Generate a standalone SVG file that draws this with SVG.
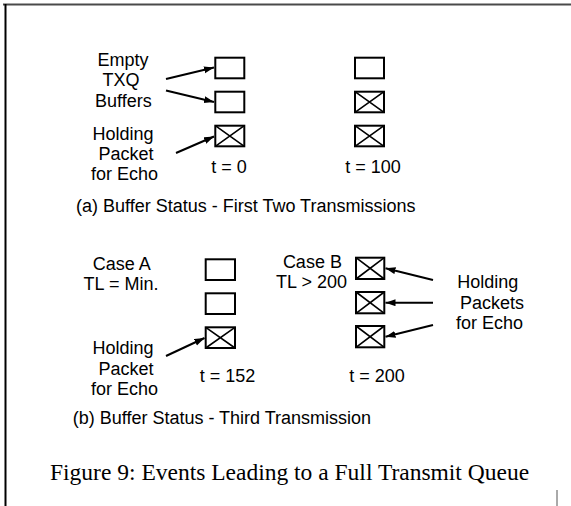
<svg xmlns="http://www.w3.org/2000/svg" width="571" height="506" viewBox="0 0 571 506">
<style>
.bx{fill:none;stroke:#000;stroke-width:2}
.x{stroke:#000;stroke-width:1.6}
.t{font-family:"Liberation Sans",Arial,sans-serif;font-size:18px;fill:#000}
.m{text-anchor:middle}
.cap{font-family:"Liberation Serif","Times New Roman",serif;font-size:23.5px;fill:#000}
.ar{stroke:#000;stroke-width:2;fill:none;marker-end:url(#ah)}
</style>
<defs>
<marker id="ah" markerUnits="userSpaceOnUse" markerWidth="11" markerHeight="8" refX="10" refY="3.5" orient="auto">
<path d="M0,0 L10,3.5 L0,7 z" fill="#000"/>
</marker>
</defs>
<rect width="571" height="506" fill="#fff"/>
<g id="frame">
<line x1="3" y1="4.5" x2="571" y2="4.5" stroke="#4a4a4a" stroke-width="2"/>
<line x1="5.5" y1="4" x2="5.5" y2="506" stroke="#000" stroke-width="2"/>
<line x1="557" y1="490" x2="557" y2="506" stroke="#555" stroke-width="1"/>
</g>
<g id="a0-1"><rect class="bx" x="215.3" y="57.7" width="29" height="20.6"/></g>
<g id="a0-2"><rect class="bx" x="215.3" y="91.7" width="29" height="20.6"/></g>
<g id="a0-3"><rect class="bx" x="215.3" y="125.7" width="29" height="20.6"/><path class="x" d="M215.3,125.7 L244.3,146.3 M244.3,125.7 L215.3,146.3"/></g>
<g id="a100-1"><rect class="bx" x="355" y="57.7" width="29" height="20.6"/></g>
<g id="a100-2"><rect class="bx" x="355" y="91.7" width="29" height="20.6"/><path class="x" d="M355,91.7 L384,112.3 M384,91.7 L355,112.3"/></g>
<g id="a100-3"><rect class="bx" x="355" y="125.7" width="29" height="20.6"/><path class="x" d="M355,125.7 L384,146.3 M384,125.7 L355,146.3"/></g>
<g id="bA-1"><rect class="bx" x="205.7" y="259.3" width="29.3" height="20.7"/></g>
<g id="bA-2"><rect class="bx" x="205.7" y="293.3" width="29.3" height="20.7"/></g>
<g id="bA-3"><rect class="bx" x="205.7" y="327.3" width="29.3" height="20.7"/><path class="x" d="M205.7,327.3 L235,348 M235,327.3 L205.7,348"/></g>
<g id="bB-1"><rect class="bx" x="356" y="257.7" width="28.3" height="21.3"/><path class="x" d="M356,257.7 L384.3,279 M384.3,257.7 L356,279"/></g>
<g id="bB-2"><rect class="bx" x="356" y="292" width="28.3" height="21.3"/><path class="x" d="M356,292 L384.3,313.3 M384.3,292 L356,313.3"/></g>
<g id="bB-3"><rect class="bx" x="356" y="326" width="28.3" height="21.3"/><path class="x" d="M356,326 L384.3,347.3 M384.3,326 L356,347.3"/></g>
<g id="connectors">
<line class="ar" x1="166" y1="79" x2="214" y2="67.5"/>
<line class="ar" x1="166" y1="90.5" x2="214" y2="102"/>
<line class="ar" x1="176" y1="153" x2="214" y2="136.5"/>
<line class="ar" x1="166" y1="356" x2="204.5" y2="338"/>
<line class="ar" x1="433" y1="280" x2="385.5" y2="268.3"/>
<line class="ar" x1="433" y1="302.7" x2="385.5" y2="302.7"/>
<line class="ar" x1="433" y1="325" x2="385.5" y2="336.7"/>
</g>
<g id="label-empty">
<text class="t m" x="123" y="66">Empty</text>
<text class="t m" x="121" y="86">TXQ</text>
<text class="t m" x="123.4" y="107">Buffers</text>
</g>
<g id="label-holding-a">
<text class="t m" x="123" y="140">Holding</text>
<text class="t m" x="126" y="160">Packet</text>
<text class="t m" x="124.5" y="180">for Echo</text>
</g>
<text class="t m" x="229" y="173">t = 0</text>
<text class="t m" x="373" y="173">t = 100</text>
<text class="t" x="76" y="212">(a) Buffer Status - First Two Transmissions</text>
<g id="label-caseA">
<text class="t m" x="121.7" y="270">Case A</text>
<text class="t m" x="121" y="290">TL = Min.</text>
</g>
<g id="label-holding-b">
<text class="t m" x="123" y="354">Holding</text>
<text class="t m" x="126" y="374.5">Packet</text>
<text class="t m" x="124.5" y="395">for Echo</text>
</g>
<g id="label-caseB">
<text class="t m" x="312.4" y="268.3">Case B</text>
<text class="t m" x="311.5" y="288.3">TL &gt; 200</text>
</g>
<g id="label-holding-packets">
<text class="t m" x="487.8" y="288.3">Holding</text>
<text class="t m" x="492" y="309">Packets</text>
<text class="t m" x="489.5" y="329.3">for Echo</text>
</g>
<text class="t m" x="227.5" y="382">t = 152</text>
<text class="t m" x="377" y="381.7">t = 200</text>
<text class="t" x="72.7" y="424">(b) Buffer Status - Third Transmission</text>
<text class="cap" x="50" y="480">Figure 9: Events Leading to a Full Transmit Queue</text>
</svg>
